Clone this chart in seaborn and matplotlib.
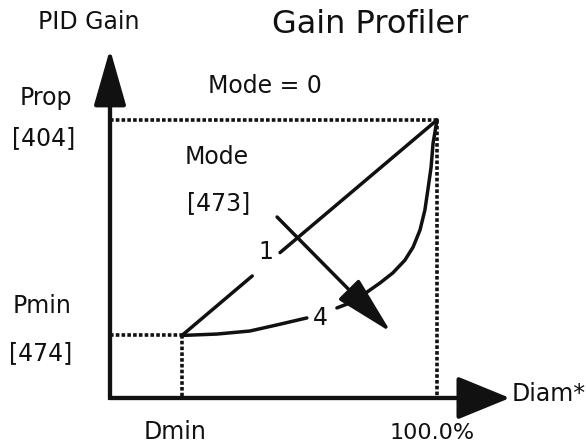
import numpy as np
import pandas as pd
import matplotlib.pyplot as plt
import seaborn as sns

# valores (x = Diam %, y = ganho %)
d_min = 22.0
p_min = 22.5
full = 100.0

# modo 1: reta de (Dmin, Pmin) ate (100, Prop), cortada no rotulo "1"
mode1_x = [22.0, 43.5, 52.0, 100.0]
mode1_y = [22.5, 43.9, 52.3, 100.0]
mode1_seg = ['1a', '1a', '1b', '1b']

# modo 4: curva, cortada no rotulo "4"
mode4_x = [22.0, 32.7, 42.8, 51.1, 60.2,
           69.4, 73.4, 78.6, 82.6, 86.5, 90.2, 92.7, 94.8, 96.3, 97.2, 98.2, 98.8, 100.0]
mode4_y = [22.5, 23.0, 24.1, 26.3, 28.8,
           32.4, 34.2, 38.1, 41.4, 45.0, 49.6, 54.3, 60.4, 67.6, 74.8, 83.1, 91.7, 100.0]
mode4_seg = ['4a'] * 5 + ['4b'] * 13

# seta "Mode [473]"
mode_arrow_tail = (51.1, 65.1)
mode_arrow_tip = (85.9, 23.7)

x_axis_end = 122.3
y_axis_end = 125.5

df = pd.DataFrame({
    'diam': mode1_x + mode4_x,
    'gain': mode1_y + mode4_y,
    'seg': mode1_seg + mode4_seg,
})

sns.set_theme(style='white')
ink = '#111111'

fig = plt.figure(figsize=(5.86, 4.48), dpi=100)
ax = fig.add_axes([0, 0, 1, 1])

# linhas pontilhadas
dot = dict(color=ink, lw=2.6, linestyle=(0, (1.0, 0.6)), dash_capstyle='butt')
ax.plot([0, full], [full, full], **dot)
ax.plot([full, full], [full, 0], **dot)
ax.plot([0, d_min], [p_min, p_min], **dot)
ax.plot([d_min, d_min], [p_min, 0], **dot)

# curvas dos modos
sns.lineplot(data=df, x='diam', y='gain', units='seg', estimator=None,
             sort=False, color=ink, lw=2.5, ax=ax, legend=False)
ax.set_xlim(-33.64, 145.57)
ax.set_ylim(-17.99, 143.17)
ax.axis('off')

# eixos com setas
ax.plot([0, 0, x_axis_end - 5], [y_axis_end - 5, 0, 0], color=ink, lw=3,
        solid_joinstyle='miter', solid_capstyle='projecting')
ax.annotate('', xy=(x_axis_end, 0), xytext=(0, 0),
            arrowprops=dict(arrowstyle='-|>,head_length=3.3,head_width=1.35',
                            mutation_scale=10, lw=3, color=ink,
                            shrinkA=0, shrinkB=0))
ax.annotate('', xy=(0, y_axis_end), xytext=(0, 0),
            arrowprops=dict(arrowstyle='-|>,head_length=3.5,head_width=1.0',
                            mutation_scale=10, lw=3, color=ink,
                            shrinkA=0, shrinkB=0))
ax.annotate('', xy=mode_arrow_tip, xytext=mode_arrow_tail,
            arrowprops=dict(arrowstyle='-|>,head_length=3.7,head_width=0.9',
                            mutation_scale=10, lw=2.5, color=ink,
                            shrinkA=0, shrinkB=0))

# textos
fs = 17
ax.text(-6.6, 135.3, 'PID Gain', fontsize=fs, color=ink, ha='center', va='center')
ax.text(79.5, 134.2, 'Gain Profiler', fontsize=23, color=ink, ha='center', va='center')
ax.text(47.4, 112.2, 'Mode = 0', fontsize=fs, color=ink, ha='center', va='center')
ax.text(-19.6, 107.9, 'Prop', fontsize=fs, color=ink, ha='center', va='center')
ax.text(-20.2, 93.5, '[404]', fontsize=fs, color=ink, ha='center', va='center')
ax.text(32.7, 86.7, 'Mode', fontsize=fs, color=ink, ha='center', va='center')
ax.text(33.3, 70.1, '[473]', fontsize=fs, color=ink, ha='center', va='center')
ax.text(-20.8, 33.1, 'Pmin', fontsize=fs, color=ink, ha='center', va='center')
ax.text(-21.1, 16.2, '[474]', fontsize=fs, color=ink, ha='center', va='center')
ax.text(19.9, -12.2, 'Dmin', fontsize=fs, color=ink, ha='center', va='center')
ax.text(98.5, -12.6, '100.0%', fontsize=16, color=ink, ha='center', va='center')
ax.text(122.9, 1.6, 'Diam*', fontsize=fs, color=ink, ha='left', va='center')
ax.text(47.7, 52.5, '1', fontsize=fs, color=ink, ha='center', va='center')
ax.text(64.2, 28.8, '4', fontsize=fs, color=ink, ha='center', va='center')

fig.savefig('out.png', dpi=100)
